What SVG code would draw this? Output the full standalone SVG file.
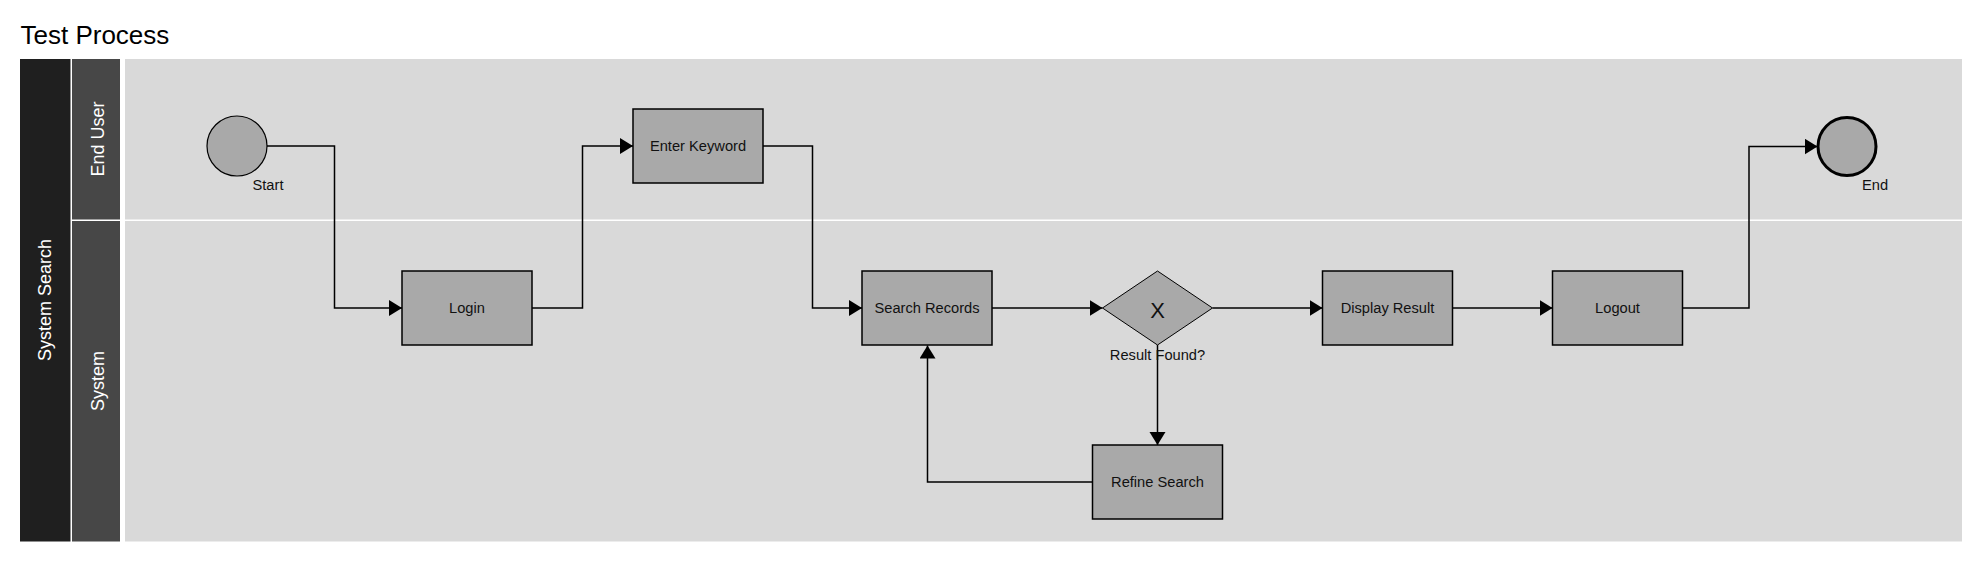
<svg xmlns="http://www.w3.org/2000/svg" width="1979" height="583" viewBox="0 0 1979 583">
  <style>
    text { font-family: "Liberation Sans", Arial, sans-serif; }
    .title { font-size: 26px; fill: #000; }
    .lane { font-size: 18px; fill: #ffffff; text-anchor: middle; }
    .task { fill: #a9a9a9; stroke: #000; stroke-width: 1.5; }
    .lbl { font-size: 14.67px; fill: #111; text-anchor: middle; }
    .conn { fill: none; stroke: #000; stroke-width: 1.5; marker-end: url(#arrow); }
  </style>
  <defs>
    <marker id="arrow" markerUnits="userSpaceOnUse" markerWidth="14" markerHeight="17" refX="13" refY="8" orient="auto">
      <path d="M0,0 L13,8 L0,16 Z" fill="#000"/>
    </marker>
  </defs>
  <rect width="1979" height="583" fill="#ffffff"/>
  <text class="title" x="20.5" y="43.5">Test Process</text>

  <g id="pool">
    <rect x="20" y="59" width="50.5" height="482.5" fill="#1f1f1f"/>
    <text class="lane" transform="translate(51,300) rotate(-90)">System Search</text>
  </g>
  <g id="lane-end-user">
    <rect x="72" y="59" width="48" height="160.5" fill="#474747"/>
    <rect x="125" y="59" width="1837" height="160.5" fill="#d9d9d9"/>
    <text class="lane" transform="translate(104,139) rotate(-90)">End User</text>
  </g>
  <g id="lane-system">
    <rect x="72" y="221" width="48" height="320.5" fill="#474747"/>
    <rect x="125" y="221" width="1837" height="320.5" fill="#d9d9d9"/>
    <text class="lane" transform="translate(104,381) rotate(-90)">System</text>
  </g>

  <g id="connectors">
    <path class="conn" d="M267,146 H334.5 V308 H402"/>
    <path class="conn" d="M532,308 H582.5 V146 H633"/>
    <path class="conn" d="M763,146 H812.5 V308 H862"/>
    <path class="conn" d="M992,308 H1102.5"/>
    <path class="conn" d="M1212.5,308 H1322.5"/>
    <path class="conn" d="M1452.5,308 H1552.5"/>
    <path class="conn" d="M1682.5,308 H1749 V146.5 H1817.5"/>
    <path class="conn" d="M1157.5,345 V445"/>
    <path class="conn" d="M1092.5,482 H927.5 V345.5"/>
  </g>

  <g id="start">
    <circle cx="237" cy="146" r="30" fill="#a9a9a9" stroke="#000" stroke-width="1.2"/>
    <text class="lbl" x="268" y="190">Start</text>
  </g>
  <g id="login">
    <rect class="task" x="402" y="271" width="130" height="74"/>
    <text class="lbl" x="467" y="313">Login</text>
  </g>
  <g id="enter-keyword">
    <rect class="task" x="633" y="109" width="130" height="74"/>
    <text class="lbl" x="698" y="151">Enter Keyword</text>
  </g>
  <g id="search-records">
    <rect class="task" x="862" y="271" width="130" height="74"/>
    <text class="lbl" x="927" y="313">Search Records</text>
  </g>
  <g id="gateway">
    <polygon points="1102.5,308 1157.5,271 1212.5,308 1157.5,345" fill="#a9a9a9" stroke="#000" stroke-width="1"/>
    <text x="1157.5" y="317.5" style="font-size:22px;fill:#111;text-anchor:middle">X</text>
    <text class="lbl" x="1157.5" y="359.5">Result Found?</text>
  </g>
  <g id="display-result">
    <rect class="task" x="1322.5" y="271" width="130" height="74"/>
    <text class="lbl" x="1387.5" y="313">Display Result</text>
  </g>
  <g id="logout">
    <rect class="task" x="1552.5" y="271" width="130" height="74"/>
    <text class="lbl" x="1617.5" y="313">Logout</text>
  </g>
  <g id="refine-search">
    <rect class="task" x="1092.5" y="445" width="130" height="74"/>
    <text class="lbl" x="1157.5" y="487">Refine Search</text>
  </g>
  <g id="end">
    <circle cx="1847" cy="146.5" r="29" fill="#a9a9a9" stroke="#000" stroke-width="3"/>
    <text class="lbl" x="1875" y="189.5">End</text>
  </g>
</svg>
